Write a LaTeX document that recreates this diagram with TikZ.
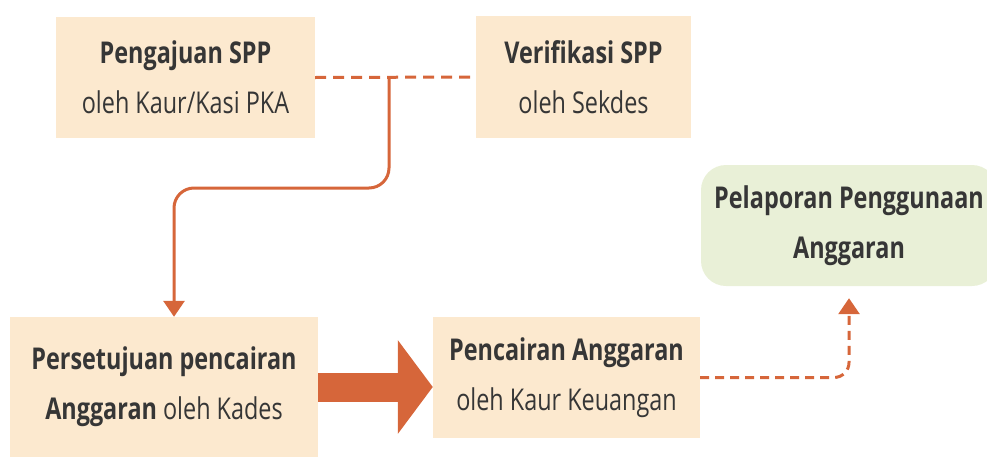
\documentclass[tikz,border=0pt]{standalone}
\usepackage{fontspec}
\setmainfont{Open Sans}[FakeStretch=0.78]
\usetikzlibrary{arrows.meta}
\definecolor{peach}{HTML}{FCE9CF}
\definecolor{sage}{HTML}{E9F0D7}
\definecolor{rust}{HTML}{D6663A}
\definecolor{ink}{HTML}{363636}
\begin{document}
\begin{tikzpicture}[x=1pt, y=-1pt, font=\fontsize{30}{50}\selectfont, line join=round, text=ink,
	box/.style={fill=peach, align=center, inner sep=0pt},
	flow/.style={draw=rust, line width=3pt},
	>={Triangle[length=16pt,width=21pt]}]
	\useasboundingbox (0,0) rectangle (987,458);
	\node[box, minimum width=259pt, minimum height=121pt] (ajuan) at (185.5,77.5) {\textbf{Pengajuan SPP}\\oleh Kaur/Kasi PKA};
	\node[box, minimum width=215pt, minimum height=122pt] (verif) at (583.5,77) {\textbf{Verifikasi SPP}\\oleh Sekdes};
	\node[box, minimum width=308pt, minimum height=140pt] (setuju) at (164,387) {\textbf{Persetujuan pencairan}\\\textbf{Anggaran} oleh Kades};
	\node[box, minimum width=267pt, minimum height=121pt] (cair) at (566.5,377.5) {\textbf{Pencairan Anggaran}\\oleh Kaur Keuangan};
	\node[box, fill=sage, rounded corners=25pt, minimum width=296pt, minimum height=121pt] (lapor) at (849,225.5) {\textbf{Pelaporan Penggunaan}\\\textbf{Anggaran}};
	\draw[flow, dash pattern=on 11pt off 7pt] (ajuan.east) -- (verif.west);
	\coordinate (cabang) at (389,77);
	\draw[flow, rounded corners=20pt, ->] (cabang) -- ++(0,111) -| ([xshift=10pt]setuju.north);
	\draw[draw=rust, line width=29pt, -{Triangle[length=35pt,width=92pt]}] (setuju.east) -- (setuju.east -| cair.west);
	\draw[flow, dash pattern=on 9pt off 6pt, rounded corners=15pt, ->, shorten >=12pt] (cair.east) -| (lapor.south);
\end{tikzpicture}
\end{document}
